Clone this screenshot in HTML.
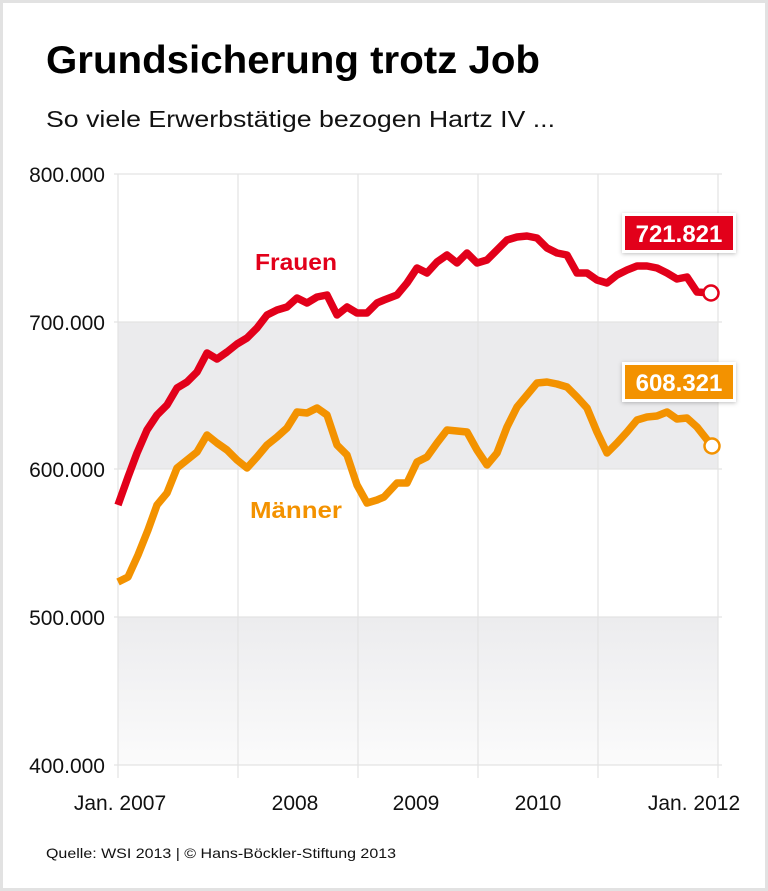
<!DOCTYPE html>
<html><head><meta charset="utf-8"><style>
body{margin:0;background:#fff}
svg{display:block}
text{font-family:"Liberation Sans",sans-serif}
</style></head><body>
<svg width="768" height="891" viewBox="0 0 768 891" xmlns="http://www.w3.org/2000/svg">
<defs>
<linearGradient id="g" x1="0" y1="0" x2="0" y2="1"><stop offset="0" stop-color="#ececee"/><stop offset="1" stop-color="#fbfbfb"/></linearGradient>
<filter id="sh" x="-20%" y="-30%" width="140%" height="160%"><feDropShadow dx="0" dy="1" stdDeviation="2" flood-color="#000" flood-opacity="0.25"/></filter>
</defs>
<rect x="0" y="0" width="768" height="891" fill="#fff"/>
<rect x="1.5" y="1.5" width="765" height="888" fill="none" stroke="#e2e2e2" stroke-width="3"/>
<text x="46" y="73" font-size="39" font-weight="bold" fill="#000" textLength="494" lengthAdjust="spacingAndGlyphs">Grundsicherung trotz Job</text>
<text x="46" y="127" font-size="23" fill="#111" textLength="509" lengthAdjust="spacingAndGlyphs">So viele Erwerbstätige bezogen Hartz IV ...</text>
<rect x="118" y="322" width="600" height="147" fill="#ebebed"/>
<rect x="118" y="617" width="600" height="148" fill="url(#g)"/>
<g stroke="#e3e3e3" stroke-width="1.2">
<line x1="114" y1="174" x2="722" y2="174"/><line x1="114" y1="322" x2="722" y2="322"/><line x1="114" y1="469" x2="722" y2="469"/><line x1="114" y1="617" x2="722" y2="617"/><line x1="114" y1="765" x2="722" y2="765"/>
<line x1="118" y1="174" x2="118" y2="778"/><line x1="238" y1="174" x2="238" y2="778"/><line x1="358" y1="174" x2="358" y2="778"/><line x1="478" y1="174" x2="478" y2="778"/><line x1="598" y1="174" x2="598" y2="778"/><line x1="718" y1="174" x2="718" y2="778"/>
</g>
<g font-size="21" fill="#111" text-anchor="end">
<text x="105" y="182">800.000</text><text x="105" y="330">700.000</text><text x="105" y="477">600.000</text><text x="105" y="625">500.000</text><text x="105" y="773">400.000</text>
</g>
<g font-size="21" fill="#111" text-anchor="middle">
<text x="120" y="810">Jan. 2007</text><text x="295" y="810">2008</text><text x="416" y="810">2009</text><text x="538" y="810">2010</text><text x="694" y="810">Jan. 2012</text>
</g>
<text x="46" y="858" font-size="14" fill="#111" textLength="350" lengthAdjust="spacingAndGlyphs">Quelle: WSI 2013 | © Hans-Böckler-Stiftung 2013</text>
<polyline fill="none" stroke="#e2001a" stroke-width="7.5" stroke-linejoin="round" points="118,505 128,477 137,453 147,430 157,415 167,405 177,388 187,382 197,372 207,353 217,359 227,352 237,344 247,338 257,328 267,315 277,310 287,307 297,298 307,303 317,297 327,295 337,315 347,307 357,313 367,313 377,303 384,300 397,295 407,283 417,268 427,273 437,262 447,255 457,263 467,253 477,263 487,260 497,250 507,240 517,237 527,236 537,238 547,248 557,253 567,255 577,273 587,273 597,280 607,283 617,275 627,270 637,266 647,266 657,268 667,273 677,279 687,277 697,292 711,293"/>
<polyline fill="none" stroke="#f39200" stroke-width="7.5" stroke-linejoin="round" points="118,582 128,577 138,555 148,530 157,505 167,493 177,468 187,460 197,452 207,435 217,443 227,450 237,460 247,468 257,457 267,445 277,437 287,428 297,412 307,413 317,408 327,415 337,445 347,455 357,485 367,503 377,500 384,497 397,483 407,483 417,462 427,457 437,443 447,430 457,431 467,432 477,450 487,465 497,453 507,427 517,407 527,395 537,383 547,382 557,384 567,387 577,397 587,408 597,432 607,453 617,443 627,432 637,420 647,417 657,416 667,412 677,419 687,418 697,427 712,446"/>
<circle cx="711" cy="293" r="7.5" fill="#fff" stroke="#e2001a" stroke-width="2.5"/>
<circle cx="712" cy="446" r="7.5" fill="#fff" stroke="#f39200" stroke-width="2.5"/>
<text x="255" y="270" font-size="23" font-weight="bold" fill="#e2001a" textLength="82" lengthAdjust="spacingAndGlyphs">Frauen</text>
<text x="250" y="518" font-size="23" font-weight="bold" fill="#f39200" textLength="92" lengthAdjust="spacingAndGlyphs">Männer</text>
<rect x="622" y="213" width="114" height="40" fill="#fff" filter="url(#sh)"/>
<rect x="625" y="216" width="108" height="34" fill="#e2001a"/>
<text x="679" y="242" font-size="24" font-weight="bold" fill="#fff" text-anchor="middle">721.821</text>
<rect x="622" y="362" width="114" height="40" fill="#fff" filter="url(#sh)"/>
<rect x="625" y="365" width="108" height="34" fill="#f39200"/>
<text x="679" y="391" font-size="24" font-weight="bold" fill="#fff" text-anchor="middle">608.321</text>
</svg>
</body></html>
